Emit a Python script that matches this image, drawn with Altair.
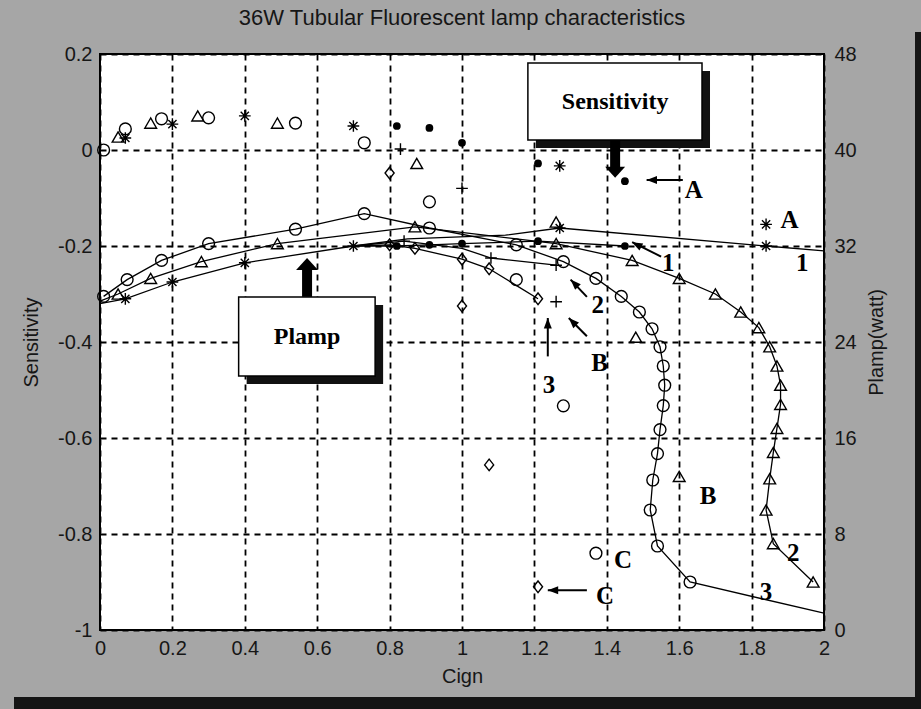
import altair as alt
import pandas as pd

# ---------------- data ----------------
# Sensitivity points (Cign, Sensitivity), one list pair per marker series
circ_s_x = [0.01, 0.07, 0.17, 0.30, 0.54, 0.73, 0.91, 1.15, 1.28, 1.37]
circ_s_y = [0.0, 0.044, 0.065, 0.067, 0.056, 0.015, -0.108, -0.27, -0.533, -0.84]
tri_s_x = [0.05, 0.14, 0.27, 0.49, 0.875, 1.26, 1.48, 1.60]
tri_s_y = [0.027, 0.056, 0.071, 0.056, -0.028, -0.15, -0.39, -0.68]
ast_s_x = [0.07, 0.20, 0.40, 0.70, 1.27, 1.84]
ast_s_y = [0.025, 0.054, 0.071, 0.05, -0.033, -0.155]
dot_s_x = [0.82, 0.91, 1.00, 1.21, 1.45]
dot_s_y = [0.05, 0.046, 0.015, -0.028, -0.065]
plus_s_x = [0.83, 1.00, 1.26]
plus_s_y = [0.002, -0.08, -0.316]
dia_s_x = [0.80, 1.00, 1.075, 1.21]
dia_s_y = [-0.048, -0.325, -0.656, -0.91]

# Plamp curves (Cign, watt); *_mark tells whether the point carries a marker
circ_p_x = [0.01, 0.075, 0.17, 0.30, 0.54, 0.73, 0.91, 1.15, 1.28, 1.37, 1.44, 1.49,
            1.525, 1.547, 1.556, 1.56, 1.556, 1.547, 1.54, 1.527, 1.52, 1.54, 1.63, 2.0]
circ_p_w = [27.8, 29.2, 30.8, 32.2, 33.4, 34.7, 33.5, 32.1, 30.7, 29.3, 27.8, 26.5,
            25.1, 23.6, 22.0, 20.4, 18.7, 16.7, 14.7, 12.5, 10.0, 7.0, 4.0, 1.4]
circ_p_mark = [True] * 23 + [False]

tri_p_x = [0.0, 0.05, 0.14, 0.28, 0.49, 0.87, 1.26, 1.47, 1.60, 1.70, 1.77, 1.82,
           1.85, 1.87, 1.88, 1.88, 1.87, 1.86, 1.85, 1.84, 1.86, 1.97]
tri_p_w = [27.4, 28.0, 29.3, 30.7, 32.2, 33.6, 32.2, 30.8, 29.3, 28.0, 26.5, 25.2,
           23.6, 22.0, 20.4, 18.8, 16.8, 14.8, 12.6, 10.0, 7.2, 4.0]
tri_p_mark = [False] + [True] * 21

ast_p_x = [0.0, 0.07, 0.20, 0.40, 0.70, 0.85, 1.12, 1.27, 1.84, 2.0]
ast_p_w = [27.2, 27.6, 29.0, 30.6, 32.0, 32.6, 32.9, 33.5, 32.0, 31.6]
ast_p_mark = [False, True, True, True, True, False, False, True, True, False]

dot_p_x = [0.70, 0.82, 0.91, 1.00, 1.21, 1.45]
dot_p_w = [32.0, 32.0, 32.1, 32.2, 32.4, 32.0]
dot_p_mark = [False, True, True, True, True, True]

plus_p_x = [0.70, 0.84, 1.00, 1.08, 1.26]
plus_p_w = [32.0, 32.4, 31.8, 31.0, 30.4]
plus_p_mark = [False, True, False, True, True]

dia_p_x = [0.70, 0.80, 0.87, 1.00, 1.075, 1.21]
dia_p_w = [32.0, 32.1, 31.8, 30.9, 30.1, 27.6]
dia_p_mark = [False, True, True, True, True, True]

# annotation letters (text, Cign, Sensitivity)
lab_text = ["A", "A", "1", "1", "2", "B", "3", "B", "C", "C", "2", "3"]
lab_x = [1.64, 1.905, 1.57, 1.94, 1.375, 1.38, 1.24, 1.68, 1.445, 1.395, 1.915, 1.84]
lab_y = [-0.083, -0.146, -0.235, -0.235, -0.323, -0.444, -0.49, -0.72, -0.854, -0.93, -0.84, -0.92]

# thin arrows: start (x1,y1) -> tip (x2,y2), head direction in degrees
arr_x1 = [1.61, 1.55, 1.345, 1.345, 1.237, 1.345]
arr_y1 = [-0.0625, -0.222, -0.306, -0.388, -0.43, -0.917]
arr_x2 = [1.51, 1.47, 1.30, 1.295, 1.237, 1.237]
arr_y2 = [-0.0625, -0.192, -0.27, -0.35, -0.35, -0.917]
arr_dir = [270, 298, 315, 315, 0, 270]

# callout boxes
box_text = ["Sensitivity", "Plamp"]
box_x1 = [1.182, 0.383]
box_x2 = [1.663, 0.760]
box_y1 = [0.181, -0.306]
box_y2 = [0.021, -0.471]
box_tx = [1.423, 0.572]
box_ty = [0.10, -0.39]
# thick callout arrows: shaft from y_a to y_b at x, tip at y_tip
call_x = [1.423, 0.572]
call_ya = [0.021, -0.306]
call_yb = [-0.042, -0.245]
call_tip = [-0.058, -0.225]

title = "36W Tubular Fluorescent lamp  characteristics"

# ---------------- build tables ----------------
AST = "M-1,0L1,0M0,-1L0,1M-0.7,-0.7L0.7,0.7M-0.7,0.7L0.7,-0.7"
PLUS = "M-1,0L1,0M0,-1L0,1"
DIAM = "M0,-1L0.78,0L0,1L-0.78,0Z"
shape_dom = ["circle", "triangle", "asterisk", "plus", "diamond"]
shape_rng = ["circle", "triangle-up", AST, PLUS, DIAM]
size_rng = [140, 135, 160, 170, 200]

sens_sets = [("circle", circ_s_x, circ_s_y), ("triangle", tri_s_x, tri_s_y),
             ("asterisk", ast_s_x, ast_s_y), ("plus", plus_s_x, plus_s_y),
             ("diamond", dia_s_x, dia_s_y)]
sens_rows = []
for name, xs, ys in sens_sets:
    for a, b in zip(xs, ys):
        sens_rows.append({"series": name, "x": a, "y": b})
sens_df = pd.DataFrame(sens_rows)
sens_dot_df = pd.DataFrame({"x": dot_s_x, "y": dot_s_y})

p_sets = [("circle", circ_p_x, circ_p_w, circ_p_mark), ("triangle", tri_p_x, tri_p_w, tri_p_mark),
          ("asterisk", ast_p_x, ast_p_w, ast_p_mark), ("dot", dot_p_x, dot_p_w, dot_p_mark),
          ("plus", plus_p_x, plus_p_w, plus_p_mark), ("diamond", dia_p_x, dia_p_w, dia_p_mark)]
p_rows = []
for name, xs, ws, ms in p_sets:
    for k, (a, b, m) in enumerate(zip(xs, ws, ms)):
        p_rows.append({"series": name, "x": a, "w": b, "i": k, "mark": m})
p_df = pd.DataFrame(p_rows)
p_mark_df = p_df[(p_df["mark"]) & (p_df["series"] != "dot")]
p_dot_df = p_df[(p_df["mark"]) & (p_df["series"] == "dot")]

lab_df = pd.DataFrame({"t": lab_text, "x": lab_x, "y": lab_y})
arr_df = pd.DataFrame({"x": arr_x1, "y": arr_y1, "x2": arr_x2, "y2": arr_y2, "a": arr_dir})
box_df = pd.DataFrame({"t": box_text, "x": box_x1, "x2": box_x2, "y": box_y1, "y2": box_y2,
                       "tx": box_tx, "ty": box_ty})
call_df = pd.DataFrame({"x": call_x, "y": call_ya, "y2": call_yb, "tip": call_tip})

# ---------------- encodings ----------------
FONT = "Liberation Sans"
SERIF = "Liberation Serif"
TXT = "#161616"
LBL = "toString(round(datum.value*10)/10)"

x_axis = alt.Axis(values=[0, 0.2, 0.4, 0.6, 0.8, 1.0, 1.2, 1.4, 1.6, 1.8, 2.0], title="Cign",
                  labelExpr=LBL, grid=True, gridDash=[6, 5], gridColor="black", gridWidth=1.8,
                  ticks=False, domain=False, labelFont=FONT, labelFontSize=20, labelColor=TXT,
                  labelPadding=8, titleFont=FONT, titleFontSize=20, titleFontWeight="normal",
                  titleColor=TXT, titlePadding=8, labelFlush=False)
x_scale = alt.Scale(domain=[0, 2], nice=False, zero=False)

def X(field="x"):
    return alt.X(f"{field}:Q", scale=x_scale, axis=x_axis)

yl_axis = alt.Axis(orient="left", values=[-1, -0.8, -0.6, -0.4, -0.2, 0, 0.2], title="Sensitivity",
                   labelExpr=LBL, grid=True, gridDash=[6, 5], gridColor="black", gridWidth=1.8,
                   ticks=False, domain=False, labelFont=FONT, labelFontSize=20, labelColor=TXT,
                   labelPadding=8, titleFont=FONT, titleFontSize=20, titleFontWeight="normal",
                   titleColor=TXT, titlePadding=16, labelFlush=False)
yl_scale = alt.Scale(domain=[-1, 0.2], nice=False, zero=False)

def YL(field="y"):
    return alt.Y(f"{field}:Q", scale=yl_scale, axis=yl_axis)

yr_axis = alt.Axis(orient="right", values=[0, 8, 16, 24, 32, 40, 48], title="Plamp(watt)",
                   grid=False, ticks=False, domain=False, labelFont=FONT, labelFontSize=20,
                   labelColor=TXT, labelPadding=10, titleFont=FONT, titleFontSize=20,
                   titleFontWeight="normal", titleColor=TXT, titlePadding=10, titleAngle=270,
                   titleBaseline="top", labelFlush=False)
yr_scale = alt.Scale(domain=[0, 48], nice=False, zero=False)

shape_enc = alt.Shape("series:N", scale=alt.Scale(domain=shape_dom, range=shape_rng), legend=None)
size_enc = alt.Size("series:N", scale=alt.Scale(domain=shape_dom, range=size_rng), legend=None)

# ---------------- left (Sensitivity) group ----------------
sens_pts = alt.Chart(sens_df).mark_point(filled=False, color="black", strokeWidth=1.4, opacity=1).encode(
    x=X(), y=YL(), shape=shape_enc, size=size_enc)
sens_dots = alt.Chart(sens_dot_df).mark_circle(color="black", size=60, opacity=1).encode(x=X(), y=YL())

shadow = alt.Chart(box_df).mark_rect(color="#111", xOffset=8, x2Offset=8, yOffset=8, y2Offset=8).encode(
    x=X(), x2="x2", y=YL(), y2="y2")
boxes = alt.Chart(box_df).mark_rect(fill="white", stroke="black", strokeWidth=1.5).encode(
    x=X(), x2="x2", y=YL(), y2="y2")
box_txt = alt.Chart(box_df).mark_text(font=SERIF, fontWeight="bold", fontSize=24, color="black").encode(
    x=X("tx"), y=YL("ty"), text="t:N")

call_shaft = alt.Chart(call_df).mark_rule(color="black", strokeWidth=10).encode(x=X(), y=YL(), y2="y2")
call_head_down = alt.Chart(call_df.iloc[[0]]).mark_point(
    shape="M0,0L-1,-1.1L1,-1.1Z", filled=True, color="black", size=400, opacity=1).encode(x=X(), y=YL("tip"))
call_head_up = alt.Chart(call_df.iloc[[1]]).mark_point(
    shape="M0,0L-1,1.1L1,1.1Z", filled=True, color="black", size=484, opacity=1).encode(x=X(), y=YL("tip"))

arr_shaft = alt.Chart(arr_df).mark_rule(color="black", strokeWidth=2).encode(x=X(), y=YL(), x2="x2", y2="y2")
arr_head = alt.Chart(arr_df).mark_point(shape="M0,0L1,2.6L-1,2.6Z", filled=True, color="black",
                                        size=64, opacity=1).encode(
    x=X("x2"), y=YL("y2"), angle=alt.Angle("a:Q", scale=None))

labels = alt.Chart(lab_df).mark_text(font=SERIF, fontWeight="bold", fontSize=25, color="black").encode(
    x=X(), y=YL(), text="t:N")

left = alt.layer(shadow, boxes, box_txt, call_shaft, call_head_down, call_head_up,
                 sens_pts, sens_dots, arr_shaft, arr_head, labels)

# ---------------- right (Plamp) group ----------------
def YR():
    return alt.Y("w:Q", scale=yr_scale, axis=yr_axis)

lines = alt.Chart(p_df).mark_line(color="black", strokeWidth=1.3).encode(
    x=X(), y=YR(), detail="series:N", order="i:Q")
p_pts = alt.Chart(p_mark_df).mark_point(filled=False, color="black", strokeWidth=1.4, opacity=1).encode(
    x=X(), y=YR(), shape=shape_enc, size=size_enc)
p_dots = alt.Chart(p_dot_df).mark_circle(color="black", size=60, opacity=1).encode(x=X(), y=YR())
right = alt.layer(lines, p_pts, p_dots)

# ---------------- frame shadow (decoration) ----------------
frame = alt.Chart(pd.DataFrame({"k": [0]})).mark_rect(color="#151515").encode(
    x=alt.value(815), x2=alt.value(822), y=alt.value(-22), y2=alt.value(656))
frame2 = alt.Chart(pd.DataFrame({"k": [0]})).mark_rect(color="#151515").encode(
    x=alt.value(-86), x2=alt.value(822), y=alt.value(643), y2=alt.value(656))

chart = alt.layer(left, right, frame, frame2).resolve_scale(y="independent").properties(
    width=724, height=576,
    title=alt.TitleParams(title, font=FONT, fontSize=22, fontWeight="normal", color=TXT,
                          anchor="middle", offset=2, frame="group"),
    background="#a6a6a6",
    padding={"left": 100, "top": 54, "right": 97, "bottom": 79},
    autosize=alt.AutoSizeParams(type="none"),
).configure_view(fill="white", stroke="black", strokeWidth=2)

chart.save("out.html", embed_options={"renderer": "svg", "actions": False})
